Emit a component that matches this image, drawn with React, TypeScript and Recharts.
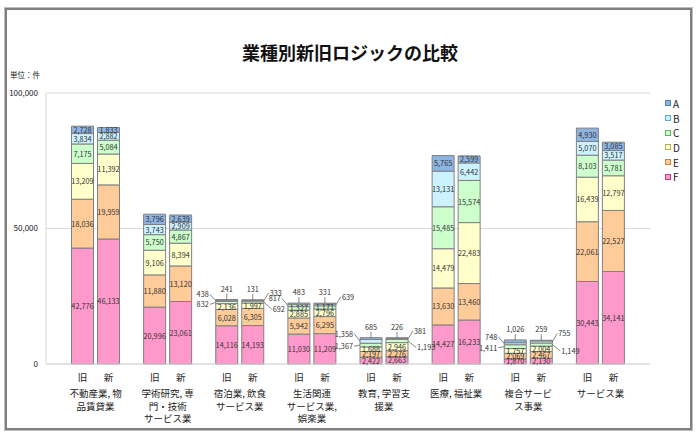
import React from 'react';
import { BarChart, Bar, XAxis, YAxis, CartesianGrid, LabelList, Legend } from 'recharts';

const categories = [
  '不動産業, 物\n品賃貸業',
  '学術研究, 専\n門・技術\nサービス業',
  '宿泊業, 飲食\nサービス業',
  '生活関連\nサービス業,\n娯楽業',
  '教育, 学習支\n援業',
  '医療, 福祉業',
  '複合サービ\nス事業',
  'サービス業',
];

const oldA = [2728, 3796, 241, 483, 685, 5765, 1026, 4930];
const oldB = [3834, 3743, 438, 817, 1358, 13131, 748, 5070];
const oldC = [7175, 5750, 832, 1327, 1367, 15485, 1411, 8103];
const oldD = [13209, 9106, 2136, 2885, 1688, 14479, 1757, 16439];
const oldE = [18036, 11880, 6028, 5942, 2197, 13630, 2069, 22061];
const oldF = [42776, 20996, 14116, 11030, 2422, 14427, 1870, 30443];

const newA = [1833, 2639, 131, 331, 226, 2599, 259, 3085];
const newB = [2882, 2909, 333, 639, 381, 6442, 755, 3517];
const newC = [5084, 4867, 692, 1171, 1193, 15574, 1149, 5781];
const newD = [11392, 8394, 1997, 2796, 2946, 22483, 2004, 12797];
const newE = [19959, 13120, 6305, 6295, 2276, 13460, 2467, 22527];
const newF = [46133, 23061, 14193, 11209, 2663, 16233, 2130, 34141];

const yTicks = [0, 50000, 100000];

// how many of the top segments (A, B, C) get an outside label per category
const outsideCount = [0, 0, 3, 2, 3, 0, 3, 0];

const COLORS: Record<string, string> = {
  A: '#8DB4E2',
  B: '#CCF2FF',
  C: '#CCFFCC',
  D: '#FFFFCC',
  E: '#FFCC99',
  F: '#FF99CC',
};
const LEGEND_BORDER: Record<string, string> = {
  A: '#4F81BD',
  B: '#5FA8C8',
  C: '#5FB05F',
  D: '#B0B060',
  E: '#D08040',
  F: '#C04080',
};

const stackOrder = ['F', 'E', 'D', 'C', 'B', 'A'];
const legendOrder = ['A', 'B', 'C', 'D', 'E', 'F'];

const FONT = '"Noto Sans CJK JP", "Noto Sans", sans-serif';

const data = categories.map((name, i) => ({
  name,
  oldA: oldA[i], oldB: oldB[i], oldC: oldC[i], oldD: oldD[i], oldE: oldE[i], oldF: oldF[i],
  newA: newA[i], newB: newB[i], newC: newC[i], newD: newD[i], newE: newE[i], newF: newF[i],
}));

const fmt = (v: number) => v.toLocaleString('en-US');

const labelStyle = { fontSize: 7.3, fill: '#333', fontFamily: FONT };

const makeLabel = (series: string, side: 'old' | 'new') => (props: any) => {
  const { x, y, width, height, value, index } = props;
  const text = fmt(Number(value));
  const cx = x + width / 2;
  const rank = 'ABC'.indexOf(series);
  const n = outsideCount[index] || 0;

  if (rank >= 0 && rank < n) {
    if (rank === 0) {
      return (
        <g>
          <line x1={cx} y1={y - 6} x2={cx} y2={y} stroke="#555" strokeWidth={0.7} />
          <text x={cx} y={y - 8} textAnchor="middle" {...labelStyle}>{text}</text>
        </g>
      );
    }
    if (side === 'old') {
      const ty = rank === 1 ? y - 6 : y + 3;
      return (
        <g>
          <line x1={x - 6} y1={ty} x2={x} y2={y + height / 2} stroke="#555" strokeWidth={0.7} />
          <text x={x - 7} y={ty} textAnchor="end" dominantBaseline="central" {...labelStyle}>{text}</text>
        </g>
      );
    }
    const ty = rank === 1 ? y - 7.5 : y + 8;
    const lx = rank === 1 ? 5 : 8;
    return (
      <g>
        <line x1={x + width} y1={y + height / 2} x2={x + width + lx} y2={ty} stroke="#555" strokeWidth={0.7} />
        <text x={x + width + lx + 1} y={ty} textAnchor="start" dominantBaseline="central" {...labelStyle}>{text}</text>
      </g>
    );
  }

  return (
    <text x={cx} y={y + height / 2} textAnchor="middle" dominantBaseline="central" {...labelStyle}>
      {text}
    </text>
  );
};

const CategoryTick = (props: any) => {
  const { x, y, payload } = props;
  const lines = String(payload.value).split('\n');
  const style = { fontSize: 9.5, fill: '#222', fontFamily: FONT };
  return (
    <g>
      <text x={x - 13} y={y + 15} textAnchor="middle" {...style}>旧</text>
      <text x={x + 13} y={y + 15} textAnchor="middle" {...style}>新</text>
      {lines.map((line, i) => (
        <text key={i} x={x} y={y + 31 + i * 12.5} textAnchor="middle" {...style}>{line}</text>
      ))}
    </g>
  );
};

const LegendBox = () => (
  <div style={{ fontFamily: FONT }}>
    {legendOrder.map(k => (
      <div key={k} style={{ display: 'flex', alignItems: 'center', height: 14.7 }}>
        <span
          style={{
            display: 'inline-block',
            width: 4,
            height: 4,
            background: COLORS[k],
            border: `1px solid ${LEGEND_BORDER[k]}`,
            marginRight: 2,
          }}
        />
        <span style={{ fontSize: 10, color: '#222' }}>{k}</span>
      </div>
    ))}
  </div>
);

export default function App() {
  return (
    <div style={{ position: 'absolute', left: 0, top: 0, width: 700, height: 438, background: '#fff', fontFamily: FONT }}>
      <div
        style={{
          position: 'absolute',
          left: 5,
          top: 8,
          width: 683,
          height: 418,
          border: '2px solid #7f7f7f',
          outline: '1px solid #c0c0c0',
        }}
      />
      <div
        style={{
          position: 'absolute',
          left: 0,
          width: 700,
          top: 39,
          textAlign: 'center',
          fontSize: 18,
          fontWeight: 'bold',
          color: '#111',
        }}
      >
        業種別新旧ロジックの比較
      </div>
      <div style={{ position: 'absolute', left: 10, top: 69, fontSize: 7.5, color: '#222' }}>単位：件</div>
      <div style={{ position: 'absolute', left: 0, top: 0 }}>
        <BarChart
          width={700}
          height={438}
          data={data}
          margin={{ top: 93, right: 20, bottom: 0, left: 0 }}
          barSize={22}
          barGap={4}
        >
          <CartesianGrid vertical={false} stroke="#d9d9d9" />
          <XAxis
            dataKey="name"
            height={74}
            interval={0}
            tickSize={0}
            tickLine={false}
            axisLine={{ stroke: '#d9d9d9' }}
            padding={{ left: 13.5, right: 13.5 }}
            tick={<CategoryTick />}
          />
          <YAxis
            domain={[0, 100000]}
            ticks={yTicks}
            width={46}
            tickSize={0}
            tickMargin={8}
            tickLine={false}
            axisLine={{ stroke: '#d9d9d9' }}
            tickFormatter={fmt}
            tick={{ fontSize: 8, fill: '#222', fontFamily: FONT }}
          />
          <YAxis
            yAxisId="right"
            orientation="right"
            domain={[0, 100000]}
            width={0}
            tick={false}
            tickLine={false}
            axisLine={{ stroke: '#d9d9d9' }}
          />
          <Legend
            layout="vertical"
            verticalAlign="top"
            align="right"
            content={<LegendBox />}
            wrapperStyle={{ position: 'absolute', left: 665, top: 96, width: 30 }}
          />
          {stackOrder.map(k => (
            <Bar
              key={`old${k}`}
              dataKey={`old${k}`}
              stackId="old"
              fill={COLORS[k]}
              stroke="#808080"
              strokeWidth={1}
              isAnimationActive={false}
            >
              <LabelList dataKey={`old${k}`} content={makeLabel(k, 'old')} />
            </Bar>
          ))}
          {stackOrder.map(k => (
            <Bar
              key={`new${k}`}
              dataKey={`new${k}`}
              stackId="new"
              fill={COLORS[k]}
              stroke="#808080"
              strokeWidth={1}
              isAnimationActive={false}
            >
              <LabelList dataKey={`new${k}`} content={makeLabel(k, 'new')} />
            </Bar>
          ))}
        </BarChart>
      </div>
    </div>
  );
}
